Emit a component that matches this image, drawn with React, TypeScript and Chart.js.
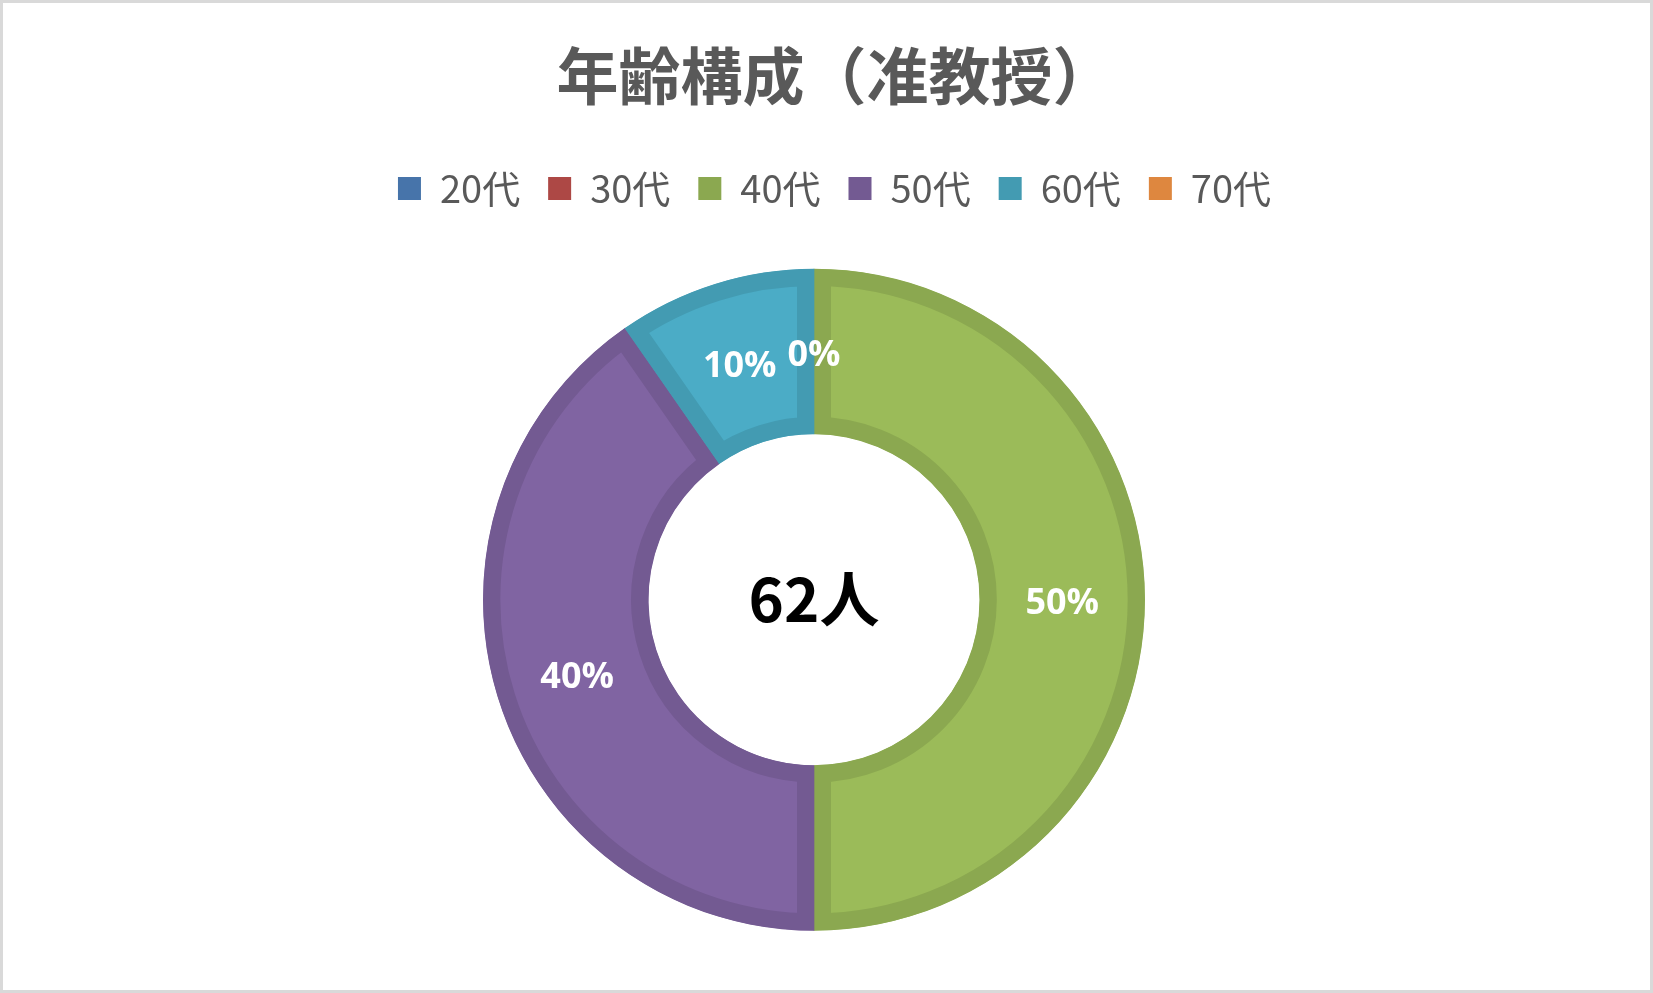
import React, { useEffect, useRef } from "react";
import { Chart, registerables } from "chart.js";

Chart.register(...registerables);

const chartTitle = "年齢構成（准教授）";
const ageGroups = ["20代", "30代", "40代", "50代", "60代", "70代"];
const headcounts = [0, 0, 31, 25, 6, 0];
const fillColors = ["#4F81BD", "#C0504D", "#9BBB59", "#8064A2", "#4BACC6", "#F79646"];
const edgeColors = ["#4774AA", "#AD4845", "#8BA850", "#735A92", "#439BB2", "#DE873F"];

const JP = "'Noto Sans CJK JP', 'Noto Sans', sans-serif";

// the plot area in the original sits a little left of the title, the legend a little right
const nudgeBoxes = {
  id: "nudgeBoxes",
  afterLayout(chart: any) {
    chart.chartArea.right -= 25;
    chart.chartArea.width -= 25;
    if (chart.legend) {
      chart.legend.left += 8;
      chart.legend.right += 8;
    }
    if (chart.titleBlock) {
      chart.titleBlock.left += 9;
      chart.titleBlock.right += 9;
    }
  },
};

const sliceLabels = {
  id: "sliceLabels",
  afterDatasetsDraw(chart: any) {
    const { ctx } = chart;
    const meta = chart.getDatasetMeta(0);
    const values = chart.data.datasets[0].data as number[];
    const total = values.reduce((a, b) => a + b, 0);
    const seen = new Set<string>();

    ctx.save();
    ctx.textAlign = "center";
    ctx.textBaseline = "middle";
    ctx.fillStyle = "#ffffff";
    ctx.font = "bold 36px 'Open Sans', sans-serif";
    meta.data.forEach((arc: any, i: number) => {
      const { x, y } = arc.tooltipPosition(false);
      const key = `${Math.round(x)},${Math.round(y)}`;
      if (seen.has(key)) return;
      seen.add(key);
      const pct = Math.round((values[i] / total) * 100);
      ctx.fillText(`${pct}%`, x, y + 4);
    });

    const c = meta.data[0];
    ctx.fillStyle = "#000000";
    ctx.font = `bold 60px ${JP}`;
    ctx.fillText(`${total}人`, c.x, c.y);
    ctx.restore();
  },
};

const App: React.FC = () => {
  const chartRef = useRef<HTMLCanvasElement | null>(null);

  useEffect(() => {
    document.body.style.margin = "0";
    if (!chartRef.current) return;
    const ctx = chartRef.current.getContext("2d");
    if (!ctx) return;

    const chart = new Chart(ctx, {
      type: "doughnut",
      data: {
        labels: ageGroups,
        datasets: [
          {
            data: headcounts,
            backgroundColor: fillColors,
            borderColor: edgeColors,
            borderWidth: 17,
            borderAlign: "inner",
            radius: 331,
          },
        ],
      },
      options: {
        responsive: false,
        animation: false,
        cutout: "50%",
        layout: { padding: { top: 0, left: 0, right: 0, bottom: 8 } },
        plugins: {
          title: {
            display: true,
            text: chartTitle,
            color: "#595959",
            font: { family: JP, size: 62, weight: "bold", lineHeight: 1.2 },
            padding: { top: 36, bottom: 28 },
          },
          legend: {
            position: "top",
            labels: {
              color: "#595959",
              font: { family: JP, size: 38 },
              boxWidth: 23,
              boxHeight: 23,
              padding: 28,
              generateLabels: () =>
                ageGroups.map((text, i) => ({
                  text,
                  fillStyle: edgeColors[i],
                  strokeStyle: edgeColors[i],
                  fontColor: "#595959",
                  lineWidth: 0,
                  hidden: false,
                  index: i,
                })),
            },
          },
          tooltip: { enabled: false },
        },
      },
      plugins: [nudgeBoxes, sliceLabels],
    });

    return () => {
      chart.destroy();
    };
  }, []);

  return (
    <div
      style={{
        width: 1653,
        height: 993,
        boxSizing: "border-box",
        border: "3px solid #d9d9d9",
        background: "#ffffff",
      }}
    >
      <canvas ref={chartRef} width={1647} height={987} style={{ display: "block" }}></canvas>
    </div>
  );
};

export default App;
